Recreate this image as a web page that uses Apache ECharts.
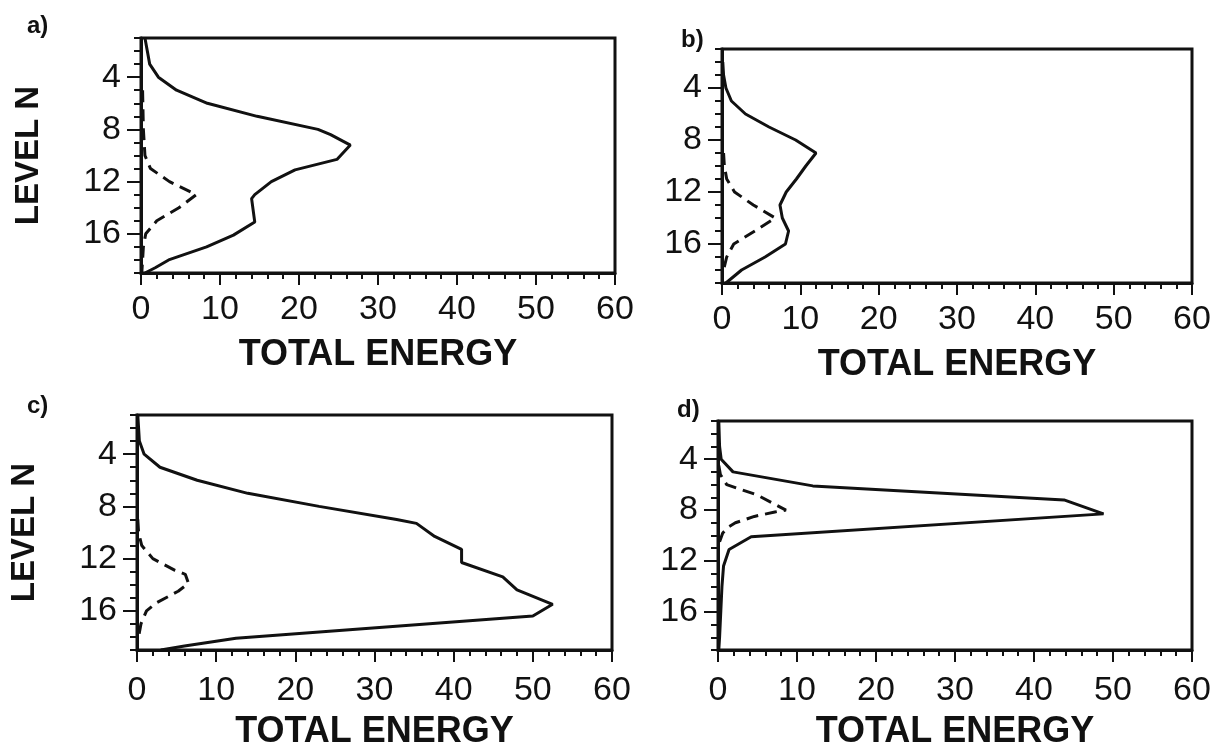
<!DOCTYPE html>
<html>
<head>
<meta charset="utf-8">
<title>Total energy by level</title>
<script src="https://cdn.jsdelivr.net/npm/echarts@6/dist/echarts.min.js"></script>
<style>
  html, body { margin: 0; padding: 0; background: #fff; }
  #chart { width: 1218px; height: 751px; }
</style>
</head>
<body>
<div id="chart"></div>
<script>
// level N (y) for each point, and total energy (x)
var levA = [1, 2, 3, 4, 5, 6, 7, 8, 8.4, 9.2, 10.3, 11.1, 12, 13, 13.3, 15.1, 16.1, 17, 18, 18.6, 19];
var solidA = [0.5, 0.8, 1.1, 2.2, 4.5, 8.4, 14.7, 22.4, 24, 26.5, 24.8, 19.5, 16.5, 14.4, 14.0, 14.4, 11.7, 8.3, 3.5, 1.8, 0.5];
var dashLevA = [5, 8, 10, 11, 12, 13, 14, 15, 16, 17, 18, 19];
var dashA = [0.2, 0.3, 0.5, 1.2, 3.6, 7.0, 4.8, 2.0, 0.6, 0.3, 0.2, 0.1];

var levB = [2, 3, 4, 5, 6, 7, 8, 9, 10, 11, 12, 13, 14, 15, 16, 17, 18, 19];
var solidB = [0.1, 0.2, 0.5, 1.2, 3.0, 6.0, 9.4, 12.0, 10.7, 9.5, 8.2, 7.4, 7.7, 8.5, 8.1, 5.5, 2.5, 0.5];
var dashLevB = [9, 10, 11, 12, 13, 14, 15, 16, 17, 18];
var dashB = [0.2, 0.3, 0.6, 1.6, 4.0, 6.8, 4.2, 1.5, 0.6, 0.2];

var levC = [1, 3, 4, 5, 6, 7, 8, 9, 9.3, 10.3, 11.3, 12.3, 13.4, 14.4, 15.5, 16.4, 18.1, 18.7, 19];
var solidC = [0.1, 0.3, 0.9, 2.9, 7.6, 14.0, 23.0, 32.8, 35.3, 37.6, 41.0, 41.0, 46.2, 48.0, 52.5, 50.0, 12.5, 6.0, 3.0];
var dashLevC = [9, 10, 11, 12, 12.9, 13.2, 13.9, 14.5, 15.4, 16, 17, 18];
var dashC = [0.1, 0.2, 0.6, 2.0, 4.8, 6.1, 6.5, 5.2, 2.4, 1.2, 0.5, 0.2];

var levD = [1, 3, 4, 5, 6.1, 7.2, 8.3, 10.1, 11.1, 12.4, 14, 16, 18, 19];
var solidD = [0.1, 0.2, 0.4, 1.9, 12.0, 43.8, 48.8, 4.2, 1.4, 0.7, 0.5, 0.35, 0.2, 0.1];
var dashLevD = [4.5, 5.2, 6.0, 6.8, 8.0, 8.15, 8.5, 9.0, 9.3, 9.8, 10.5];
var dashD = [0.1, 0.3, 1.1, 4.9, 8.6, 7.2, 4.6, 2.2, 1.4, 0.6, 0.2];

var panelNames = ['a)', 'b)', 'c)', 'd)'];
var xTicks = [0, 60, 10];          // min, max, step
var levelRange = [1, 19];
var levelLabels = [4, 8, 12, 16];

var FONT = 'Liberation Sans, Arial, Helvetica, sans-serif';
var INK = '#111';

function pairs(xs, ys) {
  return ys.map(function (y, k) { return [xs[k], y]; });
}

var panels = [
  { grid: { left: 141, top: 38, width: 474, height: 235 }, solid: pairs(solidA, levA), dash: pairs(dashA, dashLevA), yName: 'LEVEL N', tag: [22, 9], labelGap: 20 },
  { grid: { left: 722, top: 49, width: 470, height: 234 }, solid: pairs(solidB, levB), dash: pairs(dashB, dashLevB), yName: '', tag: [676, 23], labelGap: 20 },
  { grid: { left: 137, top: 415, width: 475, height: 236 }, solid: pairs(solidC, levC), dash: pairs(dashC, dashLevC), yName: 'LEVEL N', tag: [22, 389], labelGap: 24 },
  { grid: { left: 718, top: 421, width: 474, height: 233 }, solid: pairs(solidD, levD), dash: pairs(dashD, dashLevD), yName: '', tag: [672, 393], labelGap: 24 }
];

var grids = [], xAxes = [], yAxes = [], series = [], titles = [];

panels.forEach(function (p, i) {
  var g = p.grid;
  grids.push({
    left: g.left, top: g.top, width: g.width, height: g.height,
    show: true, borderColor: INK, borderWidth: 3, backgroundColor: 'transparent'
  });

  xAxes.push({
    gridIndex: i, type: 'value', min: xTicks[0], max: xTicks[1], interval: xTicks[2],
    axisLine: { lineStyle: { color: INK, width: 3 } },
    axisTick: { length: 12, lineStyle: { color: INK, width: 2 } },
    minorTick: { show: true, splitNumber: 5, length: 6, lineStyle: { color: INK, width: 2 } },
    splitLine: { show: false },
    axisLabel: { margin: p.labelGap, fontSize: 34, color: INK, fontFamily: FONT },
    name: 'TOTAL ENERGY', nameLocation: 'middle', nameGap: 64,
    nameTextStyle: { fontSize: 36, fontWeight: 'bold', color: INK, fontFamily: FONT }
  });

  // labelled axis with long ticks at 4, 8, 12, 16
  yAxes.push({
    gridIndex: i, type: 'value', inverse: true, position: 'left',
    min: levelRange[0], max: levelRange[1],
    axisLine: { lineStyle: { color: INK, width: 3 } },
    axisTick: { length: 14, customValues: levelLabels, lineStyle: { color: INK, width: 2 } },
    axisLabel: { margin: 20, fontSize: 34, color: INK, fontFamily: FONT, customValues: levelLabels },
    splitLine: { show: false },
    name: p.yName, nameLocation: 'middle', nameRotate: 90, nameGap: 96,
    nameTextStyle: { fontSize: 33, fontWeight: 'bold', color: INK, fontFamily: FONT }
  });
  // short ticks at every level
  yAxes.push({
    gridIndex: i, type: 'value', inverse: true, position: 'left',
    min: levelRange[0], max: levelRange[1], interval: 1,
    axisLine: { show: false },
    axisTick: { length: 7, lineStyle: { color: INK, width: 2 } },
    axisLabel: { show: false },
    splitLine: { show: false }
  });

  series.push({
    type: 'line', xAxisIndex: i, yAxisIndex: i * 2, data: p.solid,
    symbol: 'none', lineStyle: { color: INK, width: 3 }
  });
  series.push({
    type: 'line', xAxisIndex: i, yAxisIndex: i * 2, data: p.dash,
    symbol: 'none', lineStyle: { color: INK, width: 3, type: [12, 7] }
  });

  titles.push({
    text: panelNames[i], left: p.tag[0], top: p.tag[1],
    textStyle: { fontSize: 24, fontWeight: 'bold', color: INK, fontFamily: FONT }
  });
});

var option = {
  backgroundColor: '#fff',
  animation: false,
  title: titles,
  grid: grids,
  xAxis: xAxes,
  yAxis: yAxes,
  series: series
};

var myChart = echarts.init(document.getElementById('chart'));
myChart.setOption(option, true);
</script>
</body>
</html>
